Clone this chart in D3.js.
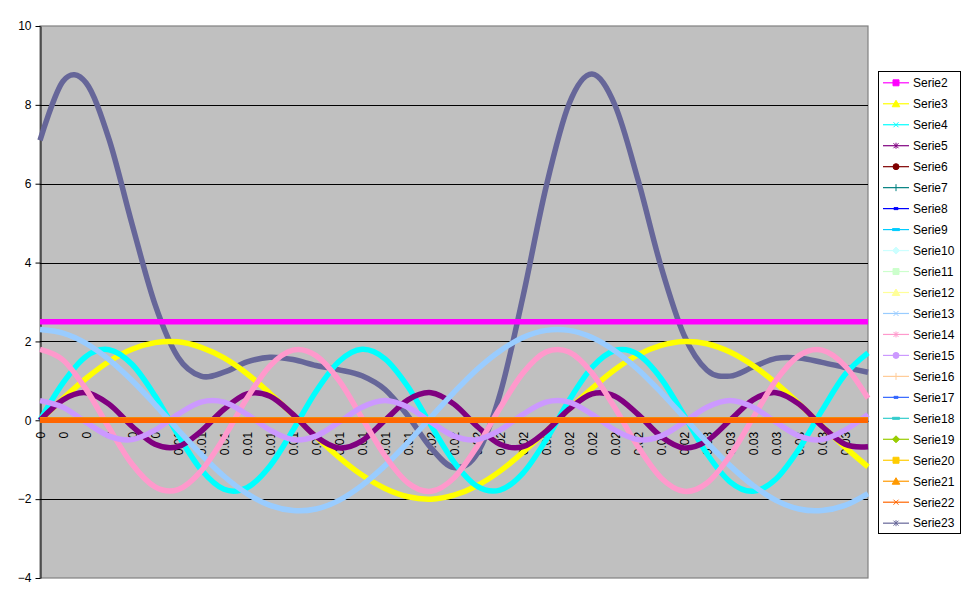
<!DOCTYPE html>
<html><head><meta charset="utf-8">
<script src="https://cdn.jsdelivr.net/npm/d3@7"></script>
<style>
body{margin:0;background:#fff}
text{font-family:"Liberation Sans",Arial,sans-serif;font-size:12px;fill:#000}
</style>
</head><body><svg id="c" width="970" height="604"></svg>
<script>
// Category labels (time, s) — last category has no visible label in the reference
const xLabels = ["0","0","0","0","0","0",
  "0.01","0.01","0.01","0.01","0.01","0.01","0.01","0.01","0.01","0.01","0.01",
  "0.02","0.02","0.02","0.02","0.02","0.02","0.02","0.02","0.02","0.02","0.02","0.02",
  "0.03","0.03","0.03","0.03","0.03","0.03","0.03","0.03"];
const yTicks = [-4,-2,0,2,4,6,8,10];

const serie2 = [2.5,2.5,2.5,2.5,2.5,2.5,2.5,2.5,2.5,2.5,2.5,2.5,2.5,2.5,2.5,2.5,2.5,2.5,2.5,2.5,2.5,2.5,2.5,2.5,2.5,2.5,2.5,2.5,2.5,2.5,2.5,2.5,2.5,2.5,2.5,2.5,2.5];
const serie3 = [0,0.55,1.06,1.49,1.80,1.97,1.99,1.85,1.58,1.18,0.68,0.14,-0.42,-0.94,-1.39,-1.73,-1.94,-2.00,-1.90,-1.66,-1.29,-0.81,-0.28,0.28,0.81,1.29,1.66,1.90,2.00,1.94,1.73,1.39,0.94,0.42,-0.14,-0.68,-1.18];
const serie4 = [0,0.95,1.62,1.79,1.42,0.62,-0.37,-1.25,-1.75,-1.71,-1.16,-0.25,0.73,1.49,1.80,1.56,0.85,-0.13,-1.06,-1.67,-1.77,-1.34,-0.50,0.50,1.34,1.77,1.67,1.06,0.13,-0.85,-1.56,-1.80,-1.49,-0.73,0.25,1.16,1.71];
const serie5 = [0,0.52,0.70,0.41,-0.15,-0.61,-0.67,-0.28,0.28,0.67,0.61,0.15,-0.41,-0.70,-0.52,0,0.52,0.70,0.41,-0.15,-0.61,-0.67,-0.28,0.28,0.67,0.61,0.15,-0.41,-0.70,-0.52,0,0.52,0.70,0.41,-0.15,-0.61,-0.67];
const serie13 = [2.30,2.21,1.95,1.54,1.01,0.40,-0.24,-0.86,-1.42,-1.86,-2.16,-2.29,-2.25,-2.03,-1.65,-1.15,-0.56,0.08,0.71,1.29,1.76,2.10,2.28,2.28,2.10,1.76,1.29,0.71,0.08,-0.56,-1.15,-1.65,-2.03,-2.25,-2.29,-2.16,-1.86];
const serie14 = [1.80,1.53,0.79,-0.19,-1.11,-1.69,-1.76,-1.29,-0.44,0.56,1.38,1.78,1.64,1.01,0.06,-0.90,-1.59,-1.80,-1.46,-0.67,0.31,1.20,1.73,1.73,1.20,0.31,-0.67,-1.46,-1.80,-1.59,-0.90,0.06,1.01,1.64,1.78,1.38,0.56];
const serie15 = [0.50,0.33,-0.05,-0.40,-0.49,-0.25,0.15,0.46,0.46,0.15,-0.25,-0.49,-0.40,-0.05,0.33,0.50,0.33,-0.05,-0.40,-0.49,-0.25,0.15,0.46,0.46,0.15,-0.25,-0.49,-0.40,-0.05,0.33,0.50,0.33,-0.05,-0.40,-0.49,-0.25,0.15];
const serie23 = [7.10,8.60,8.56,7.13,4.98,2.94,1.60,1.12,1.22,1.48,1.60,1.54,1.39,1.28,1.13,0.78,0.11,-0.70,-1.20,-0.85,0.66,3.14,5.91,8.02,8.78,7.99,6.10,3.90,2.16,1.27,1.12,1.35,1.57,1.58,1.47,1.34,1.22];
const zeroValues = [0,0,0,0,0,0,0,0,0,0,0,0,0,0,0,0,0,0,0,0,0,0,0,0,0,0,0,0,0,0,0,0,0,0,0,0,0];

const seriesNames = ["Serie2","Serie3","Serie4","Serie5","Serie6","Serie7","Serie8","Serie9","Serie10","Serie11","Serie12","Serie13","Serie14","Serie15","Serie16","Serie17","Serie18","Serie19","Serie20","Serie21","Serie22","Serie23"];
const seriesColors = ["#FF00FF","#FFFF00","#00FFFF","#800080","#800000","#008080","#0000FF","#00CCFF","#CCFFFF","#CCFFCC","#FFFF99","#99CCFF","#FF99CC","#CC99FF","#FFCC99","#3366FF","#33CCCC","#99CC00","#FFCC00","#FF9900","#FF6600","#666699"];
const seriesMarkers = ["square","triangle","x","star","circle","plus","dash","longdash","diamond","square","triangle","x","star","circle","plus","dash","longdash","diamond","square","triangle","x","star"];
const seriesValues = [serie2,serie3,serie4,serie5,zeroValues,zeroValues,zeroValues,zeroValues,zeroValues,zeroValues,zeroValues,serie13,serie14,serie15,zeroValues,zeroValues,zeroValues,zeroValues,zeroValues,zeroValues,zeroValues,serie23];
// drawing order: Serie23 lies beneath the others
const drawOrder = [21,0,1,2,3,4,5,6,7,8,9,10,11,12,13,14,15,16,17,18,19,20];

const svg = d3.select("#c");
const L = 40, R = 868, T = 26, B = 578;
const idx = xLabels.map((d,i)=>i);
const x = d3.scalePoint().domain(idx).range([L,R]);
const y = d3.scaleLinear().domain([-4,10]).range([B,T]);

svg.append("rect").attr("x",L).attr("y",T).attr("width",R-L).attr("height",B-T)
  .attr("fill","#C0C0C0").attr("stroke","#808080").attr("stroke-width",1.2);

// gridlines
svg.append("g").selectAll("line").data(yTicks.filter(v=>v>-4 && v<10)).join("line")
  .attr("x1",L).attr("x2",R).attr("y1",d=>Math.round(y(d))+0.5).attr("y2",d=>Math.round(y(d))+0.5)
  .attr("stroke","#000").attr("stroke-width",1);

// value axis
const ya = svg.append("g").attr("transform",`translate(${L+0.5},0)`)
  .call(d3.axisLeft(y).tickValues(yTicks).tickSize(5).tickSizeOuter(0).tickPadding(4).tickFormat(d3.format("d")));
ya.select(".domain").attr("stroke","#000");
ya.selectAll(".tick line").attr("stroke","#000");
ya.selectAll("text").style("font-family","'Liberation Sans',Arial,sans-serif").style("font-size","12px").attr("fill","#000");

// category axis at y=0
const xa = svg.append("g").attr("transform",`translate(0,${y(0)+0.5})`)
  .call(d3.axisBottom(x).tickValues(idx.slice(0,-1)).tickFormat(i=>xLabels[i]).tickSize(0).tickSizeOuter(0));
xa.select(".domain").attr("stroke","#000");
xa.selectAll("text").attr("transform","rotate(-90)").attr("x",-11).attr("y",0).attr("dy","0.35em")
  .attr("text-anchor","end")
  .style("font-family","'Liberation Sans',Arial,sans-serif").style("font-size","12px").attr("fill","#000");

// series lines
const line = d3.line().x((d,i)=>x(i)).y(d=>y(d)).curve(d3.curveCardinal.tension(0));
svg.append("g").selectAll("path").data(drawOrder).join("path")
  .attr("d",k=>line(seriesValues[k]))
  .attr("fill","none").attr("stroke",k=>seriesColors[k]).attr("stroke-width",5.5)
  .attr("stroke-linejoin","round");

// legend
function markerPath(t){
  switch(t){
    case "square": return "M-3,-3H3V3H-3Z";
    case "triangle": return "M0,-3.5L3.8,3H-3.8Z";
    case "x": return "M-2.5,-2.5L2.5,2.5M-2.5,2.5L2.5,-2.5";
    case "star": return "M-2.5,-2.5L2.5,2.5M-2.5,2.5L2.5,-2.5M0,-3V3";
    case "circle": return "M-3,0A3,3 0 1,0 3,0A3,3 0 1,0 -3,0Z";
    case "plus": return "M0,-3.5V3.5";
    case "dash": return "M-2,-1H2V1H-2Z";
    case "longdash": return "M-3.5,-1H3.5V1H-3.5Z";
    case "diamond": return "M0,-3.5L3.5,0L0,3.5L-3.5,0Z";
  }
}
const lg = svg.append("g");
lg.append("rect").attr("x",878.5).attr("y",71.5).attr("width",82).attr("height",462)
  .attr("fill","#fff").attr("stroke","#000").attr("stroke-width",1);
const ent = lg.selectAll("g.e").data(seriesNames.map((n,i)=>i)).join("g").attr("class","e")
  .attr("transform",i=>`translate(0,${82.3+i*20.97})`);
ent.append("line").attr("x1",883).attr("x2",909).attr("y1",0.5).attr("y2",0.5)
  .attr("stroke",i=>seriesColors[i]).attr("stroke-width",1.2);
ent.append("path").attr("transform","translate(896,0.5)").attr("d",i=>markerPath(seriesMarkers[i]))
  .attr("fill",i=>["x","star","plus"].includes(seriesMarkers[i])?"none":seriesColors[i])
  .attr("stroke",i=>seriesColors[i]).attr("stroke-width",1);
ent.append("text").attr("x",913).attr("y",4.8).text(i=>seriesNames[i]);
</script>
</body></html>
